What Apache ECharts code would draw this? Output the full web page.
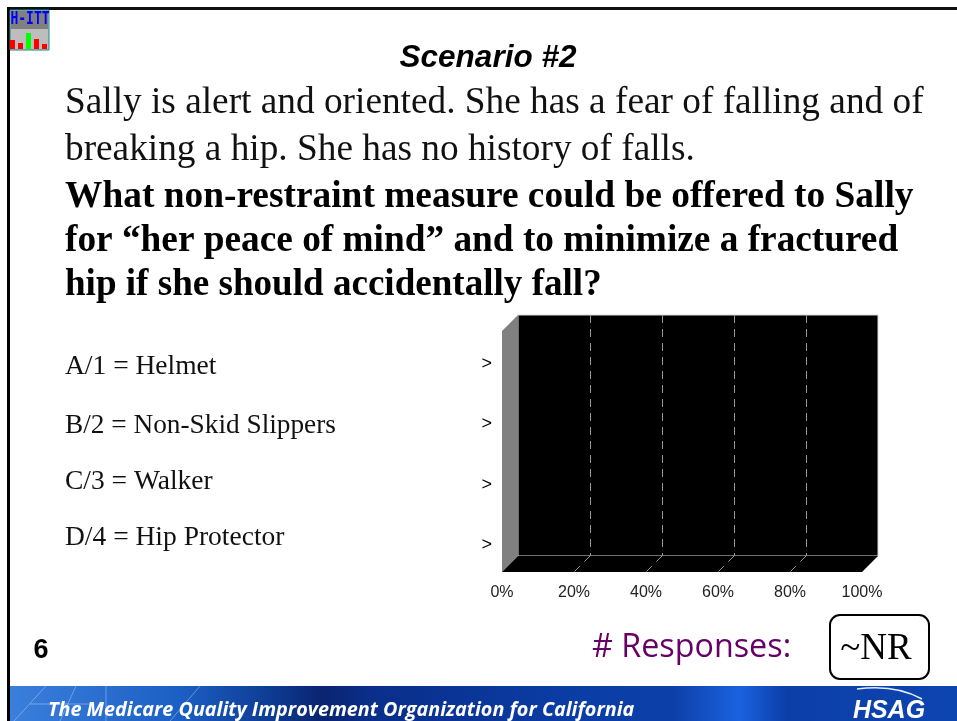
<!DOCTYPE html>
<html>
<head>
<meta charset="utf-8">
<title>Scenario #2</title>
<style>
  html, body { margin: 0; padding: 0; background: #fff; }
  #chart { width: 957px; height: 721px; }
</style>
<script src="https://cdn.jsdelivr.net/npm/echarts@6/dist/echarts.min.js"></script>
</head>
<body>
<div id="chart"></div>
<script>
const title = 'Scenario #2';
const scenarioLines = [
  'Sally is alert and oriented. She has a fear of falling and of',
  'breaking a hip. She has no history of falls.'
];
const questionLines = [
  'What non-restraint measure could be offered to Sally',
  'for \u201cher peace of mind\u201d and to minimize a fractured',
  'hip if she should accidentally fall?'
];
const answers = ['A/1 = Helmet', 'B/2 = Non-Skid Slippers', 'C/3 = Walker', 'D/4 = Hip Protector'];
const categories = ['>', '>', '>', '>'];
const values = [0, 0, 0, 0];
const gridTicks = [20, 40, 60, 80];

const serif = '"Liberation Serif", serif';
const sans = '"Liberation Sans", sans-serif';

const chart = echarts.init(document.getElementById('chart'));

// text helper for the slide copy around the chart
const txt = (x, y, text, font, fill, extra, el) => Object.assign({
  type: 'text', x, y, silent: true,
  style: Object.assign({ text, font, fill, textVerticalAlign: 'middle' }, extra)
}, el);
// faint streak in the footer artwork
const streak = (x1, y1, x2, y2) => ({
  type: 'line', silent: true,
  shape: { x1, y1, x2, y2 },
  style: { stroke: 'rgba(190,220,255,0.45)', lineWidth: 1 }
});

const depth = 16; // 3d offset of the front plane

const option = {
  animation: false,
  backgroundColor: '#fff',
  grid: [
    // back wall
    { left: 518, top: 315, width: 360, height: 241, show: true, backgroundColor: '#000', borderColor: '#d8d8d8', borderWidth: 1 },
    // front plane carrying labels and bars
    { left: 502, top: 334, width: 360, height: 241 }
  ],
  xAxis: [
    {
      gridIndex: 0, type: 'value', min: 0, max: 100, interval: 20,
      axisLine: { show: false }, axisTick: { show: false }, axisLabel: { show: false },
      splitLine: { show: true, showMinLine: false, showMaxLine: false, lineStyle: { color: '#999', type: [8, 6], width: 1 } }
    },
    {
      gridIndex: 1, type: 'value', min: 0, max: 100, interval: 20,
      axisLine: { show: false }, axisTick: { show: false }, splitLine: { show: false },
      axisLabel: { formatter: '{value}%', color: '#222', fontFamily: sans, fontSize: 16, margin: 10 }
    }
  ],
  yAxis: [
    { gridIndex: 0, type: 'category', data: categories, inverse: true, show: false },
    {
      gridIndex: 1, type: 'category', data: categories, inverse: true,
      axisLine: { show: false }, axisTick: { show: false },
      axisLabel: { color: '#000', fontFamily: sans, fontSize: 18, margin: 10 }
    }
  ],
  series: [
    {
      // side wall and floor, placed from the back wall scales
      type: 'custom', xAxisIndex: 0, yAxisIndex: 0, clip: false, silent: true, z: 1,
      data: [0],
      renderItem: (params, api) => {
        const c = params.coordSys;
        const l = c.x, r = c.x + c.width, t = c.y, b = c.y + c.height;
        return {
          type: 'group',
          children: [
            { type: 'polygon', shape: { points: [[l, t], [l, b], [l - depth, b + depth], [l - depth, t + depth]] }, style: { fill: '#808080' } },
            { type: 'polygon', shape: { points: [[l, b], [r, b], [r - depth, b + depth], [l - depth, b + depth]] }, style: { fill: '#000' } }
          ]
        };
      }
    },
    {
      // grid lines carried across the floor
      type: 'custom', xAxisIndex: 0, yAxisIndex: 0, clip: false, silent: true, z: 2,
      data: gridTicks,
      renderItem: (params, api) => {
        const x = api.coord([api.value(0), 0])[0];
        const b = params.coordSys.y + params.coordSys.height;
        return {
          type: 'line',
          shape: { x1: x, y1: b, x2: x - depth, y2: b + depth },
          style: { stroke: '#999', lineWidth: 1, lineDash: [8, 6] }
        };
      },
      encode: { x: 0 }
    },
    {
      type: 'bar', xAxisIndex: 1, yAxisIndex: 1, data: values, barWidth: 30,
      itemStyle: { color: '#f00' }, silent: true
    }
  ],
  graphic: [
    // footer banner
    {
      type: 'rect', shape: { x: 10, y: 686, width: 947, height: 35 }, silent: true,
      style: {
        fill: new echarts.graphic.LinearGradient(0, 0, 1, 0, [
          { offset: 0, color: '#3b7fdc' },
          { offset: 0.18, color: '#1c5fc4' },
          { offset: 0.28, color: '#0d3a90' },
          { offset: 0.33, color: '#0a2470' },
          { offset: 0.38, color: '#0a2e8a' },
          { offset: 0.6, color: '#0b3da6' },
          { offset: 0.7, color: '#0d3fa8' },
          { offset: 0.77, color: '#1a62e0' },
          { offset: 0.82, color: '#0c3ea8' },
          { offset: 1, color: '#0d45b0' }
        ])
      }
    },
    streak(14, 721, 46, 686),
    streak(30, 704, 90, 704),
    streak(60, 721, 76, 686),
    streak(106, 686, 106, 721),
    streak(170, 721, 200, 686),
    txt(48, 710, 'The Medicare Quality Improvement Organization for California', 'italic bold 19.8px "Open Sans", sans-serif', '#fff'),
    { type: 'bezierCurve', silent: true, shape: { x1: 857, y1: 689, cpx1: 895, cpy1: 684, x2: 922, y2: 699 }, style: { fill: 'none', stroke: '#e8eefc', lineWidth: 1.5 } },
    txt(889, 711, 'HSAG', 'italic bold 25px ' + sans, '#fff', { textAlign: 'center' }),

    // slide frame
    { type: 'rect', shape: { x: 7, y: 7, width: 950, height: 3 }, style: { fill: '#111' }, silent: true },
    { type: 'rect', shape: { x: 7, y: 7, width: 3, height: 714 }, style: { fill: '#000' }, silent: true },

    // H-ITT logo
    { type: 'rect', shape: { x: 10, y: 10, width: 39, height: 40 }, style: { fill: '#bdbdbd', stroke: '#1b8a8a', lineWidth: 1 }, silent: true },
    { type: 'rect', shape: { x: 11, y: 11, width: 37, height: 18 }, style: { fill: '#808080' }, silent: true },
    txt(30, 19, 'H-ITT', 'bold 13px "DejaVu Sans Mono", monospace', '#0000ff', { textAlign: 'center' }, { scaleY: 1.4 }),
    { type: 'rect', shape: { x: 10, y: 40, width: 5, height: 9 }, style: { fill: '#f00' }, silent: true },
    { type: 'rect', shape: { x: 18, y: 43, width: 5, height: 6 }, style: { fill: '#f00' }, silent: true },
    { type: 'rect', shape: { x: 26, y: 33, width: 5, height: 16 }, style: { fill: '#0f0' }, silent: true },
    { type: 'rect', shape: { x: 34, y: 39, width: 5, height: 10 }, style: { fill: '#f00' }, silent: true },
    { type: 'rect', shape: { x: 42, y: 44, width: 5, height: 5 }, style: { fill: '#f00' }, silent: true },

    // slide copy
    txt(488, 58, title, 'italic bold 31.5px ' + sans, '#000', { textAlign: 'center' }),
    txt(65, 103, scenarioLines[0], '37.3px ' + serif, '#111'),
    txt(65, 150, scenarioLines[1], '37.3px ' + serif, '#111'),
    txt(65, 197, questionLines[0], 'bold 37.4px ' + serif, '#000'),
    txt(65, 241, questionLines[1], 'bold 37.3px ' + serif, '#000'),
    txt(65, 285, questionLines[2], 'bold 37.1px ' + serif, '#000'),
    txt(65, 367, answers[0], '27.5px ' + serif, '#111'),
    txt(65, 426, answers[1], '27.3px ' + serif, '#111'),
    txt(65, 482, answers[2], '27.5px ' + serif, '#111'),
    txt(65, 538, answers[3], '27.5px ' + serif, '#111'),

    // slide number and response counter
    txt(41, 651, '6', 'bold 27px ' + sans, '#000', { textAlign: 'center' }),
    txt(592, 648, '# Responses:', '32.3px "Open Sans", sans-serif', '#660066'),
    { type: 'rect', shape: { x: 830, y: 615, width: 99, height: 64, r: 10 }, style: { fill: '#fff', stroke: '#000', lineWidth: 2 }, silent: true },
    txt(876, 649, '~NR', '37px ' + serif, '#000', { textAlign: 'center' })
  ]
};

chart.setOption(option);
</script>
</body>
</html>
